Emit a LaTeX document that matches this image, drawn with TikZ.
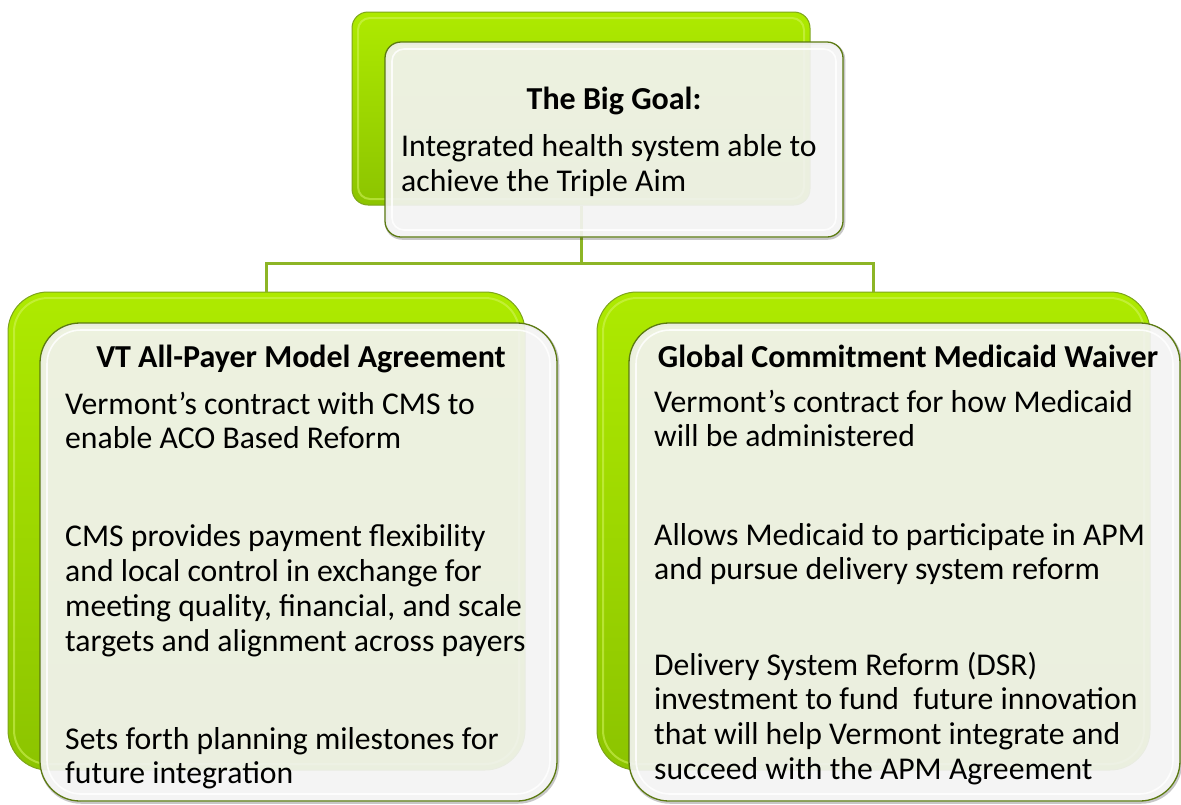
\documentclass[tikz,border=0pt]{standalone}
\usepackage{fontspec}
\setmainfont{Carlito}

\definecolor{lime}{HTML}{AEEA00}
\definecolor{limedark}{HTML}{8CC400}
\definecolor{limeedge}{HTML}{7DA51A}
\definecolor{limeglow}{HTML}{D4F560}
\definecolor{panel}{HTML}{F3F3F3}
\definecolor{paneledge}{HTML}{5C7A12}
\definecolor{linkgreen}{HTML}{8DB526}

\tikzset{
  backbox/.style={rectangle, draw=limeedge, line width=1pt,
    top color=lime, bottom color=limedark, inner sep=0pt},
  backrim/.style={rectangle, draw=limeglow, draw opacity=0.55, line width=2pt, inner sep=0pt},
  frontbox/.style={rectangle, draw=paneledge, line width=1.3pt,
    fill=panel, fill opacity=0.92, inner sep=0pt,
    preaction={draw=black, draw opacity=0.22, line width=2.5pt,
      transform canvas={xshift=1pt, yshift=-1.5pt}}},
  frontrim/.style={rectangle, draw=white, draw opacity=0.85, line width=1.6pt, inner sep=0pt},
  link/.style={draw=linkgreen, line width=3pt},
  headtext/.style={font=\bfseries\fontsize{32}{34}\selectfont, inner sep=0pt, anchor=base},
  bodytext/.style={font=\fontsize{31.7}{34}\selectfont, inner sep=0pt, anchor=base west},
}

\begin{document}
\begin{tikzpicture}[x=1pt, y=-1pt]
  \useasboundingbox (0,0) rectangle (1181,804);

  % back (green) boxes with a soft inner highlight
  \node[backbox, rounded corners=16pt, minimum width=458pt, minimum height=193pt] (topback) at (581,108.5) {};
  \node[backrim, rounded corners=12pt, minimum width=446pt, minimum height=181pt] (topbackrim) at (581,108.5) {};
  \node[backbox, rounded corners=40pt, minimum width=517pt, minimum height=478pt] (lback) at (266.5,531) {};
  \node[backrim, rounded corners=34pt, minimum width=505pt, minimum height=466pt] (lbackrim) at (266.5,531) {};
  \node[backbox, rounded corners=40pt, minimum width=553pt, minimum height=478pt] (rback) at (873.5,531) {};
  \node[backrim, rounded corners=34pt, minimum width=541pt, minimum height=466pt] (rbackrim) at (873.5,531) {};

  % connectors
  \coordinate (junction) at (581,263);
  \draw[link] (topback.south) -- (junction);
  \draw[link] (lback.north) |- (junction) -| (rback.north);

  % front (panel) boxes with an inner light rim
  \node[frontbox, rounded corners=16pt, minimum width=458pt, minimum height=195pt] (topfront) at (614,139.5) {};
  \node[frontrim, rounded corners=12pt, minimum width=444pt, minimum height=181pt] (topfrontrim) at (614,139.5) {};
  \node[frontbox, rounded corners=40pt, minimum width=517pt, minimum height=478pt] (lfront) at (298.5,562) {};
  \node[frontrim, rounded corners=34pt, minimum width=503pt, minimum height=464pt] (lfrontrim) at (298.5,562) {};
  \node[frontbox, rounded corners=40pt, minimum width=551pt, minimum height=478pt] (rfront) at (904.5,562) {};
  \node[frontrim, rounded corners=34pt, minimum width=537pt, minimum height=464pt] (rfrontrim) at (904.5,562) {};

  % top box text
  \node[headtext] (goalhead) at (614,109) {The Big Goal:};
  \node[bodytext] (goal1) at (401,156) {Integrated health system able to};
  \node[bodytext] (goal2) at (401,191) {achieve the Triple Aim};

  % left box text
  \node[headtext] (lhead) at (301,367) {VT All-Payer Model Agreement};
  \node[bodytext] (la1) at (65,414) {Vermont’s contract with CMS to};
  \node[bodytext] (la2) at (65,448) {enable ACO Based Reform};
  \node[bodytext] (lb1) at (65,546) {CMS provides payment flexibility};
  \node[bodytext] (lb2) at (65,581) {and local control in exchange for};
  \node[bodytext] (lb3) at (65,616) {meeting quality, financial, and scale};
  \node[bodytext] (lb4) at (65,651) {targets and alignment across payers};
  \node[bodytext] (lc1) at (65,749) {Sets forth planning milestones for};
  \node[bodytext] (lc2) at (65,783) {future integration};

  % right box text
  \node[headtext] (rhead) at (908,367) {Global Commitment Medicaid Waiver};
  \node[bodytext] (ra1) at (654,412) {Vermont’s contract for how Medicaid};
  \node[bodytext] (ra2) at (654,446) {will be administered};
  \node[bodytext] (rb1) at (654,545) {Allows Medicaid to participate in APM};
  \node[bodytext] (rb2) at (654,579) {and pursue delivery system reform};
  \node[bodytext] (rc1) at (654,675) {Delivery System Reform (DSR)};
  \node[bodytext] (rc2) at (654,709) {investment to fund~ future innovation};
  \node[bodytext] (rc3) at (654,744) {that will help Vermont integrate and};
  \node[bodytext] (rc4) at (654,779) {succeed with the APM Agreement};
\end{tikzpicture}
\end{document}
